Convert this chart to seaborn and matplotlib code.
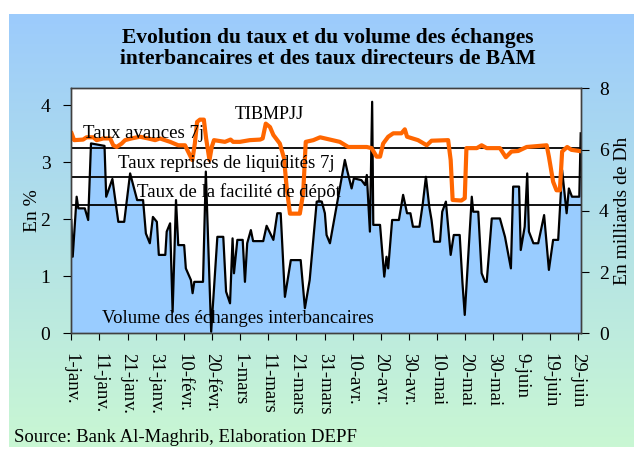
import numpy as np
import pandas as pd
import matplotlib
matplotlib.use('Agg')
import matplotlib.pyplot as plt
import seaborn as sns
from matplotlib.colors import LinearSegmentedColormap

plt.rcParams['font.family'] = ['Liberation Serif', 'DejaVu Serif']

debut = pd.Timestamp('2008-01-01')

# volume des échanges interbancaires (milliards de Dh), jours depuis le 1er janvier
jours_volume = [0.0, 0.5, 1.9, 2.5, 4.8, 6.0, 7.0, 11.8, 12.4, 14.6, 16.7, 18.8, 20.9, 23.4,
                25.5, 26.5, 27.9, 29.0, 30.4, 31.1, 33.4, 33.9, 35.1, 36.0, 37.2, 38.0, 40.1,
                40.7, 42.5, 43.1, 43.7, 46.8, 47.8, 49.7, 51.9, 54.0, 55.0, 56.4, 57.3, 57.8,
                59.0, 60.9, 61.7, 62.5, 63.8, 64.6, 68.2, 69.4, 71.8, 73.2, 74.4, 75.9, 78.0,
                81.5, 83.0, 84.7, 87.2, 89.0, 90.1, 90.7, 91.9,
                97.2, 98.0, 99.6, 100.4, 103.1, 104.4, 105.0, 106.1, 106.9, 107.3, 109.7,
                111.2, 112.0, 112.6, 114.0, 116.4, 117.9, 119.3, 120.5, 121.4, 123.7, 124.9,
                126.0, 127.2, 128.0, 128.9, 131.0, 131.8, 133.1, 134.8, 135.9, 138.0, 139.0,
                139.8, 142.3, 142.8, 144.6, 145.8, 147.0, 147.6, 149.4, 152.3, 154.1, 156.2,
                157.0, 159.1, 159.7, 161.1, 162.0, 162.6, 164.2, 165.9, 168.0, 169.7, 171.2,
                173.0, 174.4, 176.0, 176.8, 177.9, 180.5, 181.0]
volume = [3.7, 2.5, 4.46, 4.08, 4.08, 3.7, 6.2, 6.12, 4.46, 5.04, 3.64, 3.64, 5.22, 4.35,
          4.35, 3.26, 2.94, 3.8, 3.64, 2.56, 2.56, 3.32, 3.59, 0.7, 4.35, 2.88, 2.88,
          2.12, 1.74, 1.31, 1.68, 1.68, 5.28, 0.05, 3.15, 3.15, 1.36, 0.98, 3.1, 1.96,
          3.05, 3.05, 1.68, 2.94, 3.37, 3.01, 3.01, 3.51, 3.05, 3.92, 3.92, 1.19, 2.39,
          2.39, 0.82, 1.74, 4.3, 4.3, 3.92, 3.21, 2.94,
          5.66, 5.33, 4.73, 5.06, 5.0, 4.84, 5.17, 3.32, 7.56, 3.54, 3.54,
          1.85, 2.5, 2.12, 3.7, 3.7, 4.52, 3.92, 3.92, 3.48, 3.48, 4.24,
          5.11, 4.13, 3.7, 2.99, 2.99, 3.97, 4.3, 2.56, 3.21, 3.21, 1.63,
          0.6, 4.46, 3.97, 3.97, 1.96, 1.68, 1.68, 3.75, 3.75, 3.15, 2.12,
          4.79, 4.79, 2.72, 3.48, 5.22, 3.32, 2.94, 2.94, 3.86, 2.07, 3.05,
          3.05, 5.33, 3.92, 4.73, 4.46, 4.46, 6.53]

# TIBMPJJ (%)
jours_tibmpjj = [0.1, 1.0, 4.2, 5.4, 7.8, 9.0, 11.4, 13.8, 14.9, 16.1, 17.9, 19.1, 21.4, 24.4,
                 27.3, 29.8, 31.5, 35.1, 38.0, 40.4, 41.5, 43.0, 43.9, 44.7, 45.7, 47.1, 47.9,
                 49.1, 49.9, 50.7, 54.6, 56.6, 57.5, 59.9, 63.4, 67.1, 68.0, 69.1, 70.6, 71.8,
                 74.1, 75.6, 76.5, 77.7, 81.2, 82.4, 83.3, 86.0, 88.4, 91.9, 95.4, 98.4, 105.0,
                 106.7, 108.5, 109.7, 110.8, 112.6, 114.4, 117.3, 118.5, 119.3, 123.2, 126.3,
                 128.0, 133.9, 134.8, 135.5, 138.6, 139.8, 140.4, 144.1, 145.8, 147.6, 152.3,
                 154.4, 156.4, 158.8, 161.8, 168.9, 169.7, 171.2, 172.4, 173.6, 174.4, 176.2,
                 177.7, 180.5]
tibmpjj = [3.51, 3.39, 3.40, 3.44, 3.44, 3.39, 3.42, 3.42, 3.30, 3.27, 3.33, 3.39, 3.42, 3.45,
           3.42, 3.39, 3.42, 3.36, 3.30, 3.30, 3.19, 3.04, 3.33, 3.71, 3.75, 3.75, 3.42,
           3.04, 3.27, 3.39, 3.36, 3.40, 3.36, 3.36, 3.39, 3.40, 3.42, 3.68, 3.62, 3.48,
           3.33, 3.07, 2.57, 2.10, 2.10, 2.46, 3.36, 3.39, 3.44, 3.40, 3.36, 3.27, 3.27,
           3.25, 3.10, 3.10, 3.33, 3.45, 3.51, 3.51, 3.58, 3.45, 3.39, 3.30,
           3.38, 3.39, 3.04, 2.34, 2.33, 2.37, 3.25, 3.25, 3.30, 3.25, 3.25,
           3.09, 3.19, 3.20, 3.27, 3.30, 3.10, 2.66, 2.51, 2.51, 3.19, 3.27,
           3.22, 3.20]

# taux directeurs de BAM (%)
taux_avances = 3.25
taux_reprises = 2.75
taux_depot = 2.25

etiquettes_x = ['1-janv.', '11-janv.', '21-janv.', '31-janv.', '10-févr.', '20-févr.',
                '1-mars', '11-mars', '21-mars', '31-mars', '10-avr.', '20-avr.', '30-avr.',
                '10-mai', '20-mai', '30-mai', '9-juin', '19-juin', '29-juin']

df_vol = pd.DataFrame({'date': debut + pd.to_timedelta(jours_volume, unit='D'),
                       'volume': volume})
df_taux = pd.DataFrame({'date': debut + pd.to_timedelta(jours_tibmpjj, unit='D'),
                        'taux': tibmpjj})

fig = plt.figure(figsize=(6.34, 4.49), dpi=100)

# fond dégradé bleu -> vert
fond = fig.add_axes([9 / 634, 2 / 449, 625 / 634, 433 / 449], zorder=-1)
degrade = np.linspace(0, 1, 256).reshape(-1, 1)
cmap = LinearSegmentedColormap.from_list('fond', ['#9CCBFC', '#C9F7D3'])
fond.imshow(degrade, aspect='auto', cmap=cmap, extent=[0, 1, 0, 1], origin='upper')
fond.axis('off')

ax_vol = fig.add_axes([71.3 / 634, 1 - 333.3 / 449, 509.4 / 634, 245 / 449])
ax_vol.set_facecolor('white')
ax_vol.fill_between(df_vol['date'], df_vol['volume'], 0, color='#99CCFF', lw=0)
sns.lineplot(data=df_vol, x='date', y='volume', ax=ax_vol, color='black', lw=1.6)

ax_pct = ax_vol.twinx()
for niveau in [taux_avances, taux_reprises, taux_depot]:
    ax_pct.axhline(niveau, color='black', lw=1.3)
sns.lineplot(data=df_taux, x='date', y='taux', ax=ax_pct, color='#FF6600', lw=3)

# axes: volume à droite, taux à gauche
ax_vol.yaxis.tick_right()
ax_vol.yaxis.set_label_position('right')
ax_pct.yaxis.tick_left()
ax_pct.yaxis.set_label_position('left')

ax_vol.set_ylim(0, 8)
ax_vol.set_yticks([0, 2, 4, 6, 8])
ax_pct.set_ylim(0, 4.3)
ax_pct.set_yticks([0, 1, 2, 3, 4])

ax_vol.set_xlim(debut, debut + pd.Timedelta(days=181))
dates_ticks = debut + pd.to_timedelta(np.arange(0, 181, 10), unit='D')
ax_vol.set_xticks(dates_ticks, labels=etiquettes_x)
for lab in ax_vol.get_xticklabels():
    lab.set_rotation(270)
    lab.set_va('top')
    lab.set_ha('center')

ax_vol.tick_params(axis='x', direction='out', length=5, pad=9, labelsize=13.5)
ax_vol.tick_params(axis='y', direction='out', length=6, pad=7, labelsize=14)
ax_pct.tick_params(axis='y', direction='out', length=6, pad=9, labelsize=14)

ax_vol.set_xlabel('')
ax_vol.set_ylabel('En milliards de Dh', fontsize=14, rotation=90, labelpad=4)
ax_pct.set_ylabel('En %', fontsize=14, labelpad=0)

for a in (ax_vol, ax_pct):
    for sp in a.spines.values():
        sp.set_color('#404040')
        sp.set_linewidth(1)

# libellés dans le graphique
ax_pct.text(0.388, 0.895, 'TIBMPJJ', transform=ax_pct.transAxes, fontsize=13,
            ha='center', va='center', zorder=5)
ax_pct.text(0.0235, 0.815, 'Taux avances 7j', transform=ax_pct.transAxes, fontsize=13.5,
            ha='left', va='center', zorder=5)
ax_pct.text(0.092, 0.695, 'Taux reprises de liquidités 7j', transform=ax_pct.transAxes,
            fontsize=13.5, ha='left', va='center', zorder=5)
ax_pct.text(0.128, 0.577, 'Taux de la facilité de dépôt', transform=ax_pct.transAxes,
            fontsize=13.5, ha='left', va='center', zorder=5)
ax_pct.text(0.06, 0.062, 'Volume des échanges interbancaires', transform=ax_pct.transAxes,
            fontsize=13.5, ha='left', va='center', zorder=5)

fig.text(0.517, 1 - 48.5 / 449,
         'Evolution du taux et du volume des échanges\ninterbancaires et des taux directeurs de BAM',
         ha='center', va='center', fontsize=15.5, fontweight='bold', linespacing=1.1)
fig.text(14 / 634, 1 - 441.7 / 449, 'Source: Bank Al-Maghrib, Elaboration DEPF',
         ha='left', va='baseline', fontsize=13.5)

fig.savefig('out.png', dpi=100)
